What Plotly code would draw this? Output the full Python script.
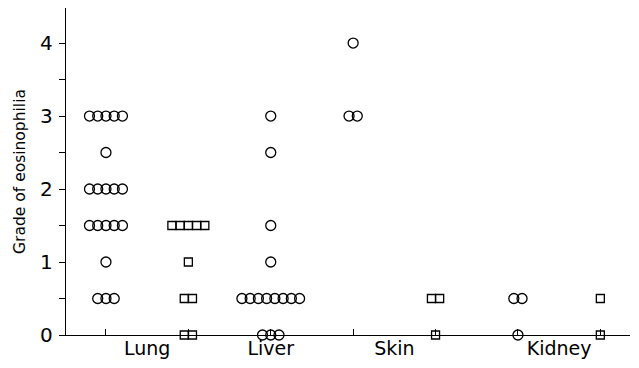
import plotly.graph_objects as go
from collections import Counter

# ---- data (grade of eosinophilia for each case) ----
lung_circles = [3, 3, 3, 3, 3, 2.5, 2, 2, 2, 2, 2, 1.5, 1.5, 1.5, 1.5, 1.5, 1, 0.5, 0.5, 0.5]
lung_squares = [1.5, 1.5, 1.5, 1.5, 1.5, 1, 0.5, 0.5, 0, 0]
liver_circles = [3, 2.5, 1.5, 1, 0.5, 0.5, 0.5, 0.5, 0.5, 0.5, 0.5, 0.5, 0, 0, 0]
skin_circles = [4, 3, 3]
skin_squares = [0.5, 0.5, 0]
kidney_circles = [0.5, 0.5, 0]
kidney_squares = [0.5, 0]

columns = [lung_circles, lung_squares, liver_circles, skin_circles,
           skin_squares, kidney_circles, kidney_squares]
column_symbols = ["circle-open", "square-open", "circle-open", "circle-open",
                  "square-open", "circle-open", "square-open"]

categories = ["Lung", "Liver", "Skin", "Kidney"]
category_centres = [0.5, 2, 3.5, 5.5]

y_tick_values = [0, 0.5, 1, 1.5, 2, 2.5, 3, 3.5, 4]
y_tick_labels = ["0", "", "1", "", "2", "", "3", "", "4"]

STEP = 0.1  # horizontal spacing of tied points (layout only)

fig = go.Figure()
for pos, (vals, sym) in enumerate(zip(columns, column_symbols)):
    counts = Counter(vals)
    xs, ys = [], []
    for v, n in counts.items():
        for i in range(n):
            xs.append(pos + (i - (n - 1) / 2) * STEP)
            ys.append(v)
    is_sq = sym.startswith("square")
    fig.add_trace(go.Scatter(
        x=xs, y=ys, mode="markers", cliponaxis=False, showlegend=False,
        marker=dict(symbol=sym, size=8 if is_sq else 10, color="black",
                    line=dict(color="black", width=1.3)),
    ))

font = "DejaVu Sans, sans-serif"
# page body has an 8px default margin, so the figure is sized to fit the window
fig.update_layout(
    width=631, height=360,
    margin=dict(l=58, r=9, t=0, b=33),
    paper_bgcolor="white", plot_bgcolor="white",
    font=dict(family=font, color="black"),
    xaxis=dict(range=[-0.485, 6.36], tickvals=list(range(len(columns))),
               ticktext=[""] * len(columns), ticks="inside", ticklen=6,
               tickwidth=1.3, tickcolor="black", showline=True,
               linecolor="black", linewidth=1.3, showgrid=False, zeroline=False),
    xaxis2=dict(range=[-0.485, 6.36], overlaying="x", side="bottom",
                tickvals=category_centres, ticktext=categories, ticks="",
                showline=False, showgrid=False, zeroline=False,
                tickfont=dict(size=19, family=font, color="black")),
    yaxis=dict(range=[0, 4.48], tickvals=y_tick_values, ticktext=y_tick_labels,
               ticks="outside", ticklen=6, tickwidth=1.3, tickcolor="black",
               showline=True, linecolor="black", linewidth=1.3,
               showgrid=False, zeroline=False, ticklabelstandoff=2,
               tickfont=dict(size=20, family=font, color="black"),
               title=dict(text="Grade of eosinophilia",
                          font=dict(size=15.5, family=font, color="black"),
                          standoff=10)),
)
# invisible trace so the label axis is drawn
fig.add_trace(go.Scatter(x=[None], y=[None], xaxis="x2", showlegend=False))

fig.write_html("out.html")
